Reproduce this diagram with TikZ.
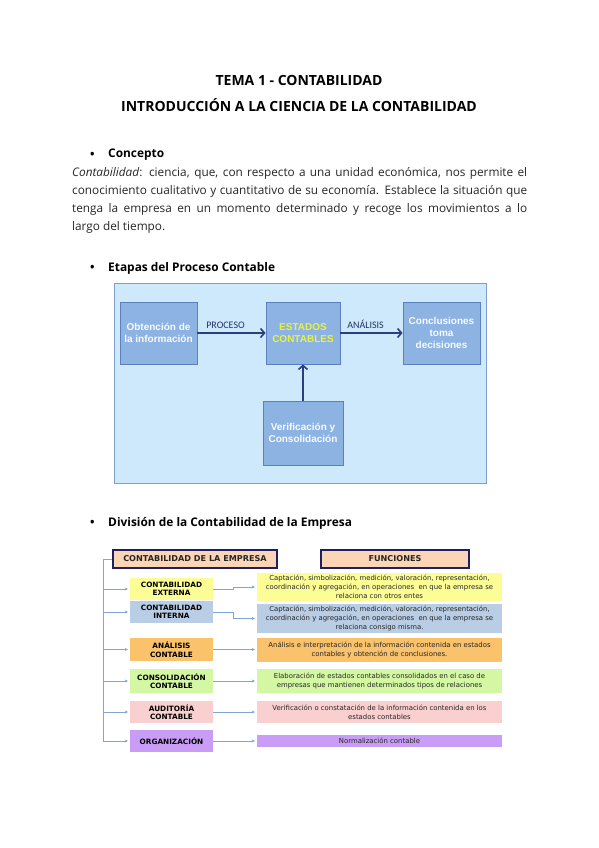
\documentclass[tikz,border=0pt]{standalone}
\usepackage{fontspec}
\setmainfont{Open Sans}
\newfontfamily\arialfont{Liberation Sans}
\newfontfamily\dvfont{DejaVu Sans}
\newfontfamily\calfont{Carlito}
\usetikzlibrary{arrows.meta}
\definecolor{panelbg}{HTML}{CDE9FB}
\definecolor{panelbd}{HTML}{7F9FCC}
\definecolor{boxbg}{HTML}{8DB3E2}
\definecolor{boxbd}{HTML}{5B7FBF}
\definecolor{navy}{HTML}{2B3F7F}
\definecolor{stayel}{HTML}{EAF23C}
\definecolor{hdrbg}{HTML}{FBD5B5}
\definecolor{hdrbd}{HTML}{1F2060}
\definecolor{cyel}{HTML}{FDFD96}
\definecolor{cblu}{HTML}{B9CDE5}
\definecolor{cora}{HTML}{FAC26B}
\definecolor{cgrn}{HTML}{D4F7A4}
\definecolor{cpnk}{HTML}{F9CFCF}
\definecolor{cpur}{HTML}{C99CF5}
\definecolor{link}{HTML}{7EA6D6}
\definecolor{txt}{HTML}{262626}
\begin{document}
\begin{tikzpicture}[x=1pt,y=-1pt,
  heading/.style={font=\fontsize{11.9}{14}\selectfont\bfseries, text=black, inner sep=0pt, anchor=west},
  stepbox/.style={draw=boxbd, line width=0.8pt, fill=boxbg, text=white!94!boxbg, align=center,
    font=\arialfont\fontsize{10}{12}\selectfont\bfseries, inner sep=1pt},
  bigarrow/.style={draw=navy, line width=1.8pt, -{Straight Barb[length=4pt,width=9pt,line width=1.6pt]}},
  arrlabel/.style={font=\calfont\fontsize{10}{11}\selectfont, text=navy!80!black, inner sep=0pt},
  hdrbox/.style={draw=hdrbd, line width=1.5pt, fill=hdrbg, text=txt,
    font=\dvfont\fontsize{8.1}{9}\selectfont\bfseries, inner sep=0pt},
  itembox/.style={fill=#1, text=black, align=center, minimum width=83pt,
    font=\dvfont\fontsize{7.3}{8.4}\selectfont\bfseries, inner sep=0pt},
  descbox/.style={fill=#1, text=txt, align=center, minimum width=245pt,
    font=\dvfont\fontsize{6.9}{9}\selectfont, inner sep=0pt},
  conn/.style={draw=link, line width=0.8pt, -{Stealth[length=3pt,width=3pt]}}
]
\useasboundingbox (0,0) rectangle (599,848);
\fill[white] (0,0) rectangle (599,848);

% Titles
\node[font=\fontsize{14}{16}\selectfont\bfseries, inner sep=0pt] (t1) at (299,80) {TEMA 1 - CONTABILIDAD};
\node[font=\fontsize{14}{16}\selectfont\bfseries, inner sep=0pt] (t2) at (299,105) {INTRODUCCIÓN A LA CIENCIA DE LA CONTABILIDAD};

% Concepto
\node[heading] (b1) at (90,155) {•};
\node[heading] (h1) at (108,155) {Concepto};
\node[anchor=north west, inner sep=0pt, text width=455pt, align=justify, text=txt,
  font=\fontsize{11.8}{18}\selectfont] (par) at (72,167)
  {\textit{Contabilidad}: ciencia, que, con respecto a una unidad económica, nos permite el\linebreak
   conocimiento cualitativo y cuantitativo de su economía. Establece la situación que\linebreak
   tenga la empresa en un momento determinado y recoge los movimientos a lo\linebreak
   largo del tiempo.};

% Etapas
\node[heading] (b2) at (90,268) {•};
\node[heading] (h2) at (108,268) {Etapas del Proceso Contable};

\draw[fill=panelbg, draw=panelbd, line width=0.9pt] (114,283) rectangle (486,483);
\node[stepbox, minimum width=77pt, minimum height=62pt] (obt) at (158.5,333) {Obtención de\\la información};
\node[stepbox, minimum width=74pt, minimum height=62pt, text=stayel] (est) at (303,333) {ESTADOS\\CONTABLES};
\node[stepbox, minimum width=77pt, minimum height=62pt] (con) at (441.5,333) {Conclusiones\\toma\\decisiones};
\node[stepbox, minimum width=80pt, minimum height=64pt] (ver) at (303,433) {Verificación y\\Consolidación};
\draw[bigarrow] (obt.east) -- (est.west) node[arrlabel, midway, above=4pt, xshift=-6pt] (lp) {PROCESO};
\draw[bigarrow] (est.east) -- (con.west) node[arrlabel, midway, above=4pt, xshift=-6pt] (la) {ANÁLISIS};
\draw[bigarrow] (ver.north) -- (est.south);

% División
\node[heading] (b3) at (90,523) {•};
\node[heading] (h3) at (108,523) {División de la Contabilidad de la Empresa};

\node[hdrbox, minimum width=164pt, minimum height=18pt] (ce) at (195,559) {CONTABILIDAD DE LA EMPRESA};
\node[hdrbox, minimum width=148pt, minimum height=18pt] (fu) at (395,559) {FUNCIONES};

\node[itembox=cyel, minimum height=22pt] (l1) at (171.5,589) {CONTABILIDAD\\EXTERNA};
\node[itembox=cblu, minimum height=22pt] (l2) at (171.5,612) {CONTABILIDAD\\INTERNA};
\node[itembox=cora, minimum height=23pt] (l3) at (171.5,649.5) {ANÁLISIS\\CONTABLE};
\node[itembox=cgrn, minimum height=24pt] (l4) at (171.5,681) {CONSOLIDACIÓN\\CONTABLE};
\node[itembox=cpnk, minimum height=22pt] (l5) at (171.5,712) {AUDITORÍA\\CONTABLE};
\node[itembox=cpur, minimum height=22pt] (l6) at (171.5,741) {ORGANIZACIÓN};

\node[descbox=cyel, minimum height=28pt] (d1) at (379.5,587) {Captación, simbolización, medición, valoración, representación,\\coordinación y agregación, en operaciones\ \ en que la empresa se\\relaciona con otros entes};
\node[descbox=cblu, minimum height=29pt] (d2) at (379.5,618.5) {Captación, simbolización, medición, valoración, representación,\\coordinación y agregación, en operaciones\ \ en que la empresa se\\relaciona consigo misma.};
\node[descbox=cora, minimum height=24pt] (d3) at (379.5,650) {Análisis e interpretación de la información contenida en estados\\contables y obtención de conclusiones.};
\node[descbox=cgrn, minimum height=24pt] (d4) at (379.5,681) {Elaboración de estados contables consolidados en el caso de\\empresas que mantienen determinados tipos de relaciones};
\node[descbox=cpnk, minimum height=22pt] (d5) at (379.5,712) {Verificación o constatación de la información contenida en los\\estados contables};
\node[descbox=cpur, minimum height=12pt] (d6) at (379.5,741) {Normalización contable};

% trunk
\coordinate (top) at (103,559);
\coordinate (bot) at (103,741);
\draw[draw=link, line width=0.8pt] (ce.west) -- (top) -- (bot);
\foreach \n in {l1,l2,l3,l4,l5} {
  \draw[conn] (top |- \n.west) -- ([xshift=-2pt]\n.west);
}
\draw[conn] (bot) -- ([xshift=-2pt]l6.west);

% right connectors
\coordinate (e1) at (233,589);
\coordinate (e2) at (233,612);
\draw[conn] (l1.east) -- (e1) -- (e1 |- d1.west) -- ([xshift=-2pt]d1.west);
\draw[conn] (l2.east) -- (e2) -- (e2 |- d2.west) -- ([xshift=-2pt]d2.west);
\foreach \a/\b in {l3/d3,l4/d4,l5/d5,l6/d6} {
  \draw[conn] (\a.east) -- ([xshift=-2pt]\a.east -| \b.west);
}
\end{tikzpicture}
\end{document}
